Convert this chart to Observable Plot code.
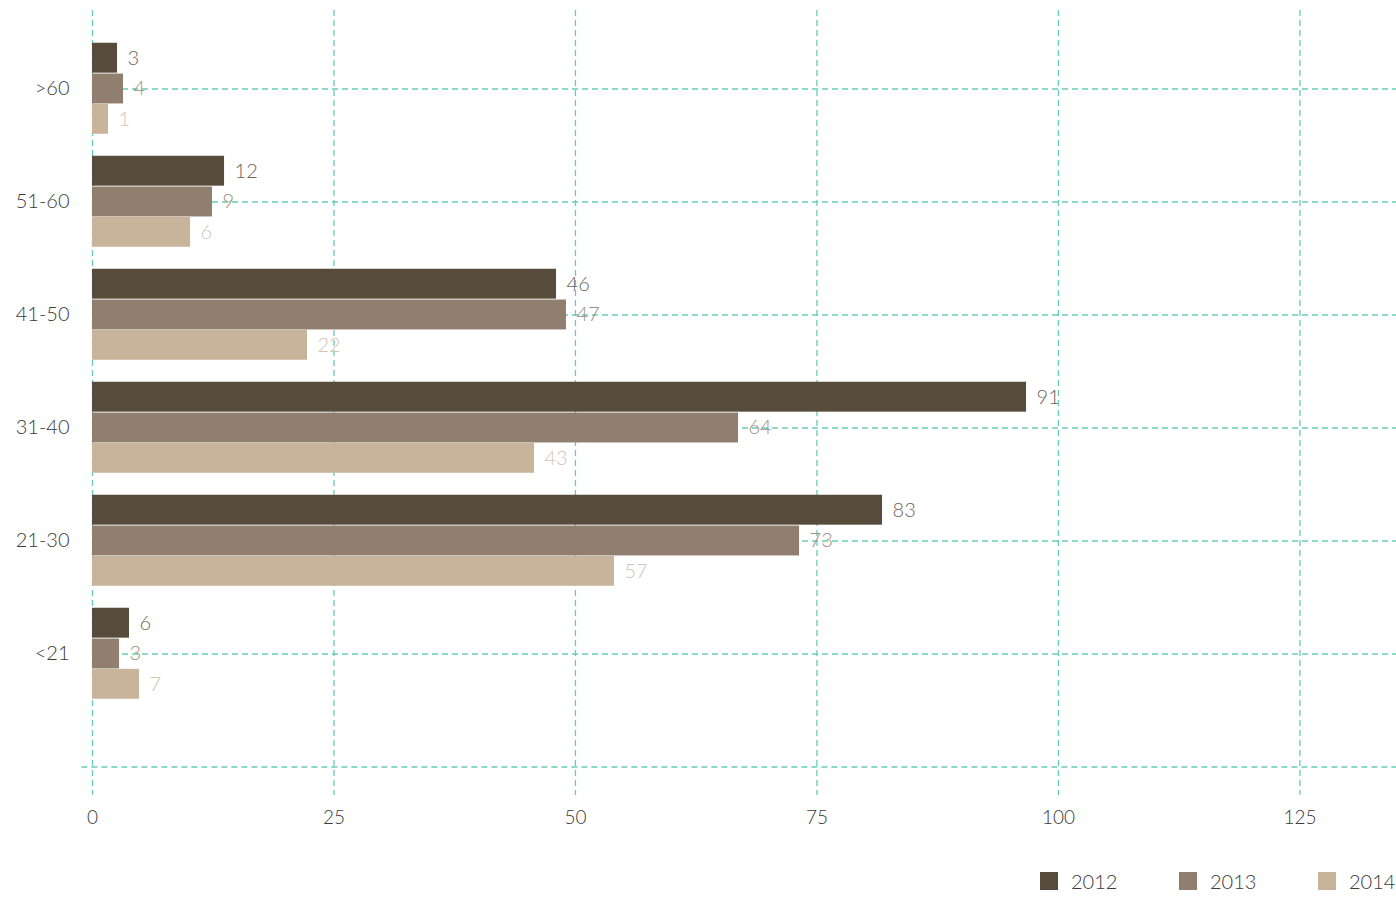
<!DOCTYPE html>
<html>
<head>
<meta charset="utf-8">
<script src="https://cdn.jsdelivr.net/npm/d3@7"></script>
<script src="https://cdn.jsdelivr.net/npm/@observablehq/plot@0.6"></script>
<style>
  html, body { margin: 0; padding: 0; background: #fff; }
  #chart { position: relative; width: 1396px; font-family: Lato, "Open Sans", sans-serif; font-weight: 300; }
  #legend { position: relative; width: 1396px; height: 47px; }
  .item { position: absolute; top: 22px; height: 18px; display: flex; align-items: center; font-size: 20px; color: #3a3a3a; }
  .sw { width: 18px; height: 18px; margin-right: 13px; }
</style>
</head>
<body>
<div id="chart"></div>
<script>
const ages = [">60", "51-60", "41-50", "31-40", "21-30", "<21"];
const blankRow = " ";
const years = ["2012", "2013", "2014"];
const colors = ["#574b3c", "#907f6e", "#c8b49a"];
const labelColors = ["#6e655c", "#9c8d80", "#d3c4b2"];
// bar lengths as drawn
const bars2012 = [2.59, 13.67, 48.04, 96.70, 81.79, 3.83];
const bars2013 = [3.21, 12.42, 49.07, 66.88, 73.20, 2.80];
const bars2014 = [1.66, 10.15, 22.26, 45.76, 54.04, 4.87];
// value labels as printed
const labels2012 = [3, 12, 46, 91, 83, 6];
const labels2013 = [4, 9, 47, 64, 73, 3];
const labels2014 = [1, 6, 22, 43, 57, 7];
const xTicks = [0, 25, 50, 75, 100, 125];

const barSets = [bars2012, bars2013, bars2014];
const labelSets = [labels2012, labels2013, labels2014];
const rows = years.flatMap((yr, j) => ages.map((a, i) => ({age: a, year: yr, value: barSets[j][i], label: labelSets[j][i], k: j})));

const grid = "#66cdb4";
const dash = "6,4";
const barH = 30.3;
const step = 113.4;
const inset = (step - barH) / 2;
const offs = [-barH - 0.5, 0, barH];

const marks = [
  Plot.ruleX(xTicks, {x: d => d, stroke: grid, strokeDasharray: dash, strokeWidth: 1.3}),
  Plot.ruleY(ages, {y: d => d, stroke: grid, strokeDasharray: dash, strokeWidth: 1.3}),
  Plot.ruleY([blankRow], {y: d => d, x1: -1.1, x2: 135, stroke: grid, strokeDasharray: dash, strokeWidth: 1.3}),
];
years.forEach((yr, j) => {
  const data = rows.filter(r => r.year === yr);
  marks.push(Plot.barX(data, {x: "value", y: "age", fill: colors[j], insetTop: inset, insetBottom: inset, dy: offs[j]}));
});
years.forEach((yr, j) => {
  const data = rows.filter(r => r.year === yr);
  marks.push(Plot.text(data, {x: "value", y: "age", text: d => String(d.label), fill: labelColors[j], dx: 10, dy: offs[j], textAnchor: "start", fontSize: 20}));
});
marks.push(Plot.axisX(xTicks, {tickSize: 0, tickPadding: 15, fontSize: 19, fill: "#3a3a3a", label: null}));
marks.push(Plot.axisY(ages, {tickSize: 0, tickPadding: 23, fontSize: 20, fill: "#3a3a3a", label: null}));

const chart = Plot.plot({
  width: 1396,
  height: 850,
  marginTop: 10,
  marginBottom: 55,
  marginLeft: 92,
  marginRight: 0,
  style: {fontFamily: "Lato, 'Open Sans', sans-serif", fontWeight: 300, background: "#fff", overflow: "visible"},
  x: {domain: [0, 135]},
  y: {type: "band", domain: [...ages, blankRow], range: [87 - step / 2, 87 + step * 6.5], padding: 0},
  marks
});
document.getElementById("chart").appendChild(chart);

const legend = document.createElement("div");
legend.id = "legend";
years.forEach((yr, j) => {
  const it = document.createElement("div");
  it.className = "item";
  it.style.left = (1040 + j * 139) + "px";
  const sw = document.createElement("div");
  sw.className = "sw";
  sw.style.background = colors[j];
  const tx = document.createElement("span");
  tx.textContent = yr;
  it.appendChild(sw);
  it.appendChild(tx);
  legend.appendChild(it);
});
document.getElementById("chart").appendChild(legend);
</script>
</body>
</html>
